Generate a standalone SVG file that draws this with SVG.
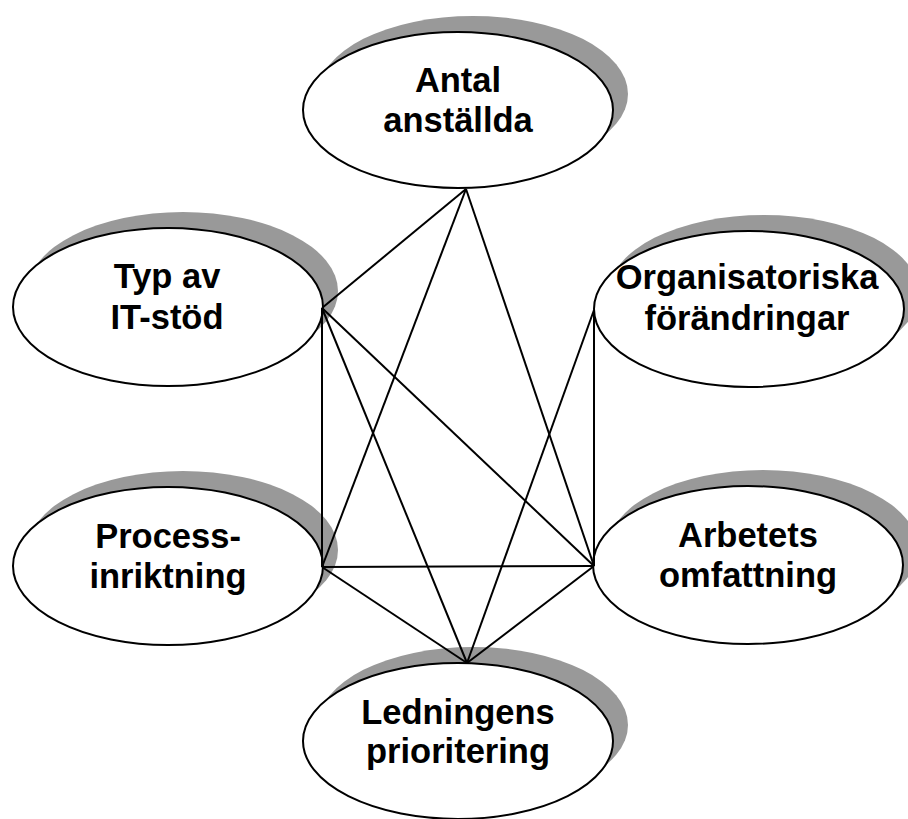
<svg xmlns="http://www.w3.org/2000/svg" width="908" height="819" viewBox="0 0 908 819">
  <style>
    .shadow { fill: #999999; stroke: none; }
    .node { fill: #ffffff; stroke: #000000; stroke-width: 2; }
    .label { font-family: "Liberation Sans", Arial, sans-serif; font-weight: bold; font-size: 34.5px; fill: #000000; text-anchor: middle; }
    .edge { stroke: #000000; stroke-width: 2; fill: none; }
  </style>
  <rect width="908" height="819" fill="#ffffff"/>

  <g id="antal-anstallda">
    <ellipse class="shadow" cx="473" cy="94" rx="155" ry="78"/>
    <ellipse class="node" cx="458" cy="110" rx="155" ry="78"/>
    <text class="label" x="458" y="92">Antal</text>
    <text class="label" x="458" y="132">anställda</text>
  </g>

  <g id="typ-av-it-stod">
    <ellipse class="shadow" cx="183" cy="291" rx="155" ry="79"/>
    <ellipse class="node" cx="168" cy="307" rx="155" ry="79"/>
    <text class="label" x="167" y="288">Typ av</text>
    <text class="label" x="167" y="329">IT-stöd</text>
  </g>

  <g id="organisatoriska-forandringar">
    <ellipse class="shadow" cx="764" cy="293" rx="155" ry="78"/>
    <ellipse class="node" cx="749" cy="309" rx="155" ry="78"/>
    <text class="label" x="747" y="289">Organisatoriska</text>
    <text class="label" x="747" y="330">förändringar</text>
  </g>

  <g id="processinriktning">
    <ellipse class="shadow" cx="183" cy="550" rx="155" ry="79"/>
    <ellipse class="node" cx="168" cy="566" rx="155" ry="79"/>
    <text class="label" x="168" y="548">Process-</text>
    <text class="label" x="168" y="588">inriktning</text>
  </g>

  <g id="arbetets-omfattning">
    <ellipse class="shadow" cx="763" cy="549" rx="155" ry="79"/>
    <ellipse class="node" cx="748" cy="565" rx="155" ry="79"/>
    <text class="label" x="748" y="547">Arbetets</text>
    <text class="label" x="748" y="587">omfattning</text>
  </g>

  <g id="ledningens-prioritering">
    <ellipse class="shadow" cx="473" cy="725" rx="155" ry="78"/>
    <ellipse class="node" cx="458" cy="741" rx="155" ry="78"/>
    <text class="label" x="458" y="724">Ledningens</text>
    <text class="label" x="458" y="763">prioritering</text>
  </g>

  <g id="connectors">
    <line class="edge" x1="466" y1="189" x2="322" y2="308"/>
    <line class="edge" x1="466" y1="189" x2="322" y2="567"/>
    <line class="edge" x1="466" y1="189" x2="594" y2="566"/>
    <line class="edge" x1="322" y1="308" x2="322" y2="567"/>
    <line class="edge" x1="322" y1="308" x2="594" y2="566"/>
    <line class="edge" x1="322" y1="308" x2="467" y2="663"/>
    <line class="edge" x1="594" y1="310" x2="594" y2="566"/>
    <line class="edge" x1="594" y1="310" x2="467" y2="663"/>
    <line class="edge" x1="322" y1="567" x2="594" y2="566"/>
    <line class="edge" x1="322" y1="567" x2="467" y2="663"/>
    <line class="edge" x1="594" y1="566" x2="467" y2="663"/>
  </g>
</svg>
